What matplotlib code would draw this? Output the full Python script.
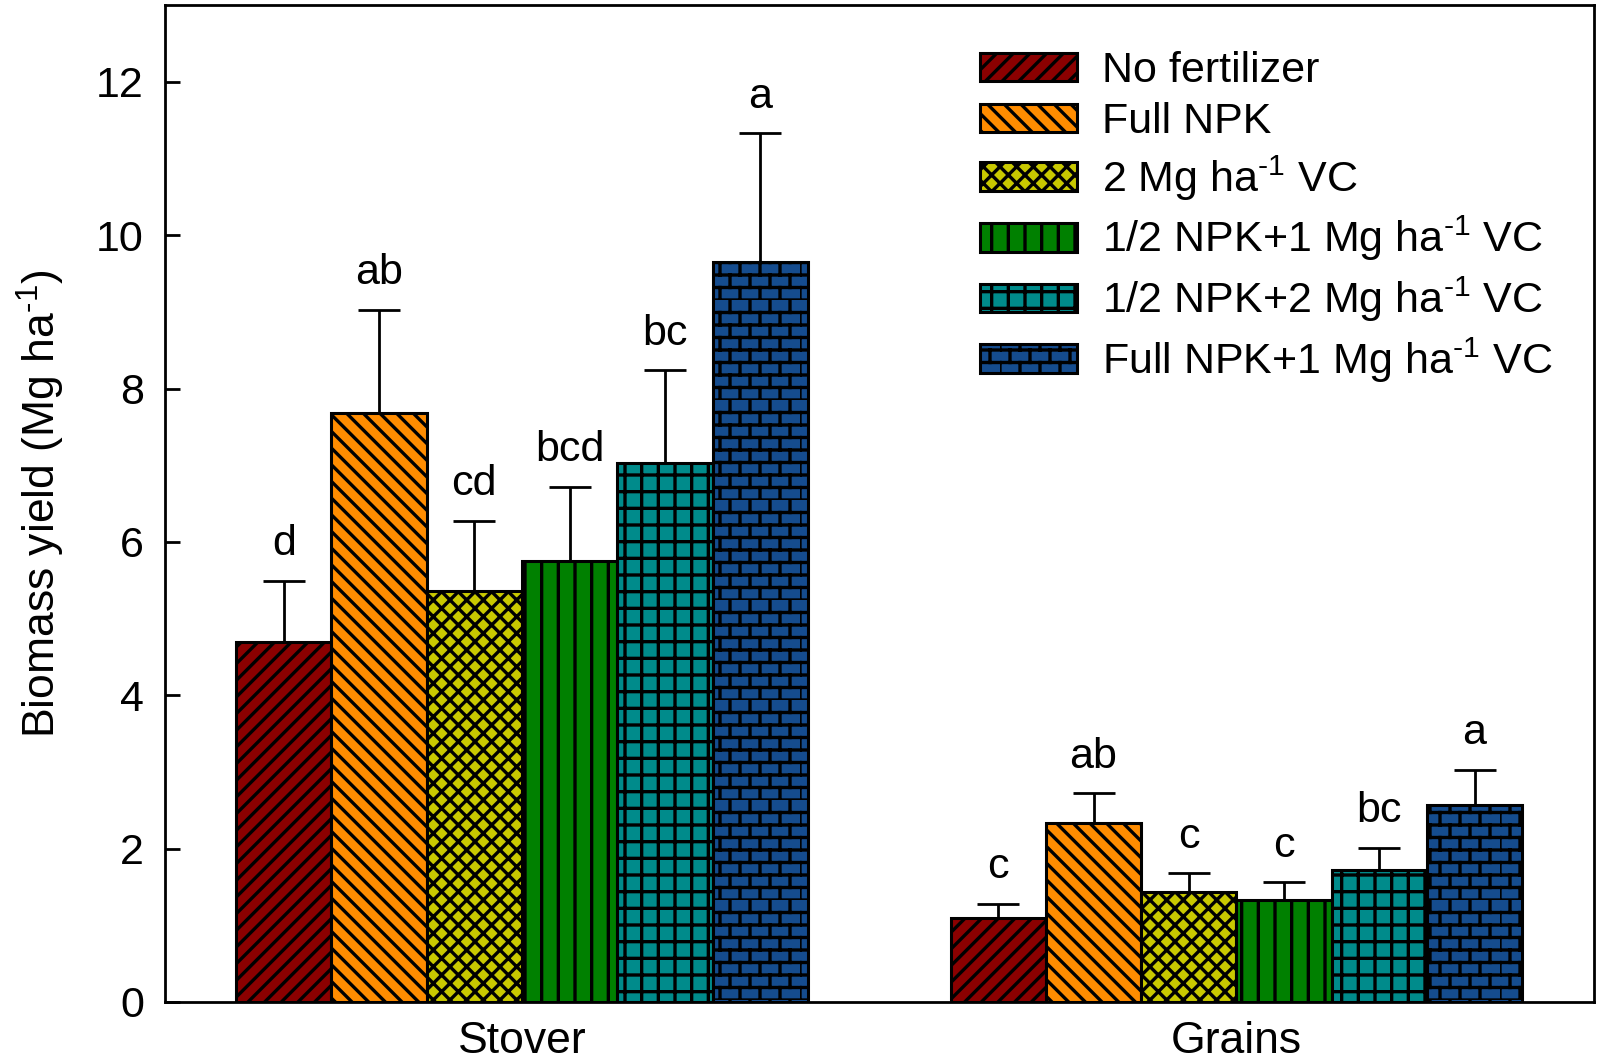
import warnings
import numpy as np
import matplotlib
matplotlib.use("Agg")
import matplotlib.pyplot as plt
from matplotlib import hatch as mhatch
from matplotlib.path import Path

warnings.filterwarnings('ignore')

plt.rcParams['font.family'] = ['Liberation Sans', 'DejaVu Sans']
plt.rcParams['mathtext.fontset'] = 'custom'
plt.rcParams['mathtext.rm'] = 'Liberation Sans'
plt.rcParams['mathtext.it'] = 'Liberation Sans'
plt.rcParams['hatch.linewidth'] = 2.4


# brick hatch ('b'), not in matplotlib by default
class BrickHatch(mhatch.HatchPatternBase):
    def __init__(self, hatch, density):
        n = hatch.count('b')
        self.rows = 8 * n
        self.cols = 5 * n
        self.num_vertices = (self.rows + self.rows * self.cols) * 2

    def set_vertices_and_codes(self, vertices, codes):
        if self.num_vertices == 0:
            return
        k = 0
        dy = 1.0 / self.rows
        dx = 1.0 / self.cols
        for r in range(self.rows):
            y0 = r * dy
            vertices[k] = (0.0, y0)
            vertices[k + 1] = (1.0, y0)
            k += 2
            off = 0.0 if r % 2 == 0 else dx / 2
            for c in range(self.cols):
                xv = c * dx + off
                vertices[k] = (xv, y0)
                vertices[k + 1] = (xv, y0 + dy)
                k += 2
        codes[0::2] = Path.MOVETO
        codes[1::2] = Path.LINETO


mhatch._hatch_types.append(BrickHatch)

# data
groups = ['Stover', 'Grains']
treatments = ['No fertilizer', 'Full NPK', r'2 Mg ha$^{\text{-1}}$ VC',
              r'1/2 NPK+1 Mg ha$^{\text{-1}}$ VC', r'1/2 NPK+2 Mg ha$^{\text{-1}}$ VC',
              r'Full NPK+1 Mg ha$^{\text{-1}}$ VC']
means = [[4.69, 1.09],
         [7.68, 2.33],
         [5.36, 1.44],
         [5.75, 1.33],
         [7.03, 1.72],
         [9.65, 2.57]]
errs = [[0.80, 0.19],
        [1.35, 0.39],
        [0.92, 0.24],
        [0.97, 0.23],
        [1.21, 0.29],
        [1.68, 0.46]]
letters = [['d', 'c'],
           ['ab', 'ab'],
           ['cd', 'c'],
           ['bcd', 'c'],
           ['bc', 'bc'],
           ['a', 'a']]

colors = ['#8b0000', '#ff8c00', '#c8c800', '#008000', '#008b8b', '#154c8e']
hatches = ['//', '\\\\', 'xx', '|', '+', 'b']

fig = plt.figure(figsize=(16, 10.64), dpi=100)
ax = fig.add_axes([0.103, 0.0583, 0.893, 0.9367])

x = np.arange(len(groups))
w = 0.8 / len(treatments)
for i in range(len(treatments)):
    pos = x + (i - 2.5) * w
    ax.bar(pos, means[i], width=w, color=colors[i], edgecolor='black',
           hatch=hatches[i], linewidth=2.2, label=treatments[i], zorder=2)
    ax.errorbar(pos, means[i], yerr=[np.zeros(len(groups)), errs[i]],
                fmt='none', ecolor='black', elinewidth=2, capsize=15,
                capthick=2, zorder=1)
    for j in range(len(groups)):
        ax.annotate(letters[i][j], (pos[j], means[i][j] + errs[i][j]),
                    xytext=(0, 12), textcoords='offset points',
                    ha='center', va='bottom', fontsize=31)

ax.set_xlim(-0.5, 1.5)
ax.set_ylim(0, 13)
ax.set_yticks(np.arange(0, 13, 2))
ax.set_xticks(x)
ax.set_xticklabels(groups, fontsize=32)
ax.tick_params(axis='y', direction='in', length=11, width=2, labelsize=31, pad=15)
ax.tick_params(axis='x', length=0, pad=14)
for s in ax.spines.values():
    s.set_linewidth(2)
ax.set_ylabel(r'Biomass yield (Mg ha$^{\text{-1}}$)', fontsize=32, labelpad=21)

ax.legend(loc='upper right', bbox_to_anchor=(0.998, 0.993), frameon=False,
          fontsize=31, handlelength=2.25, handleheight=0.65, labelspacing=0.26,
          handletextpad=0.58)

fig.savefig('out.png', dpi=100)
